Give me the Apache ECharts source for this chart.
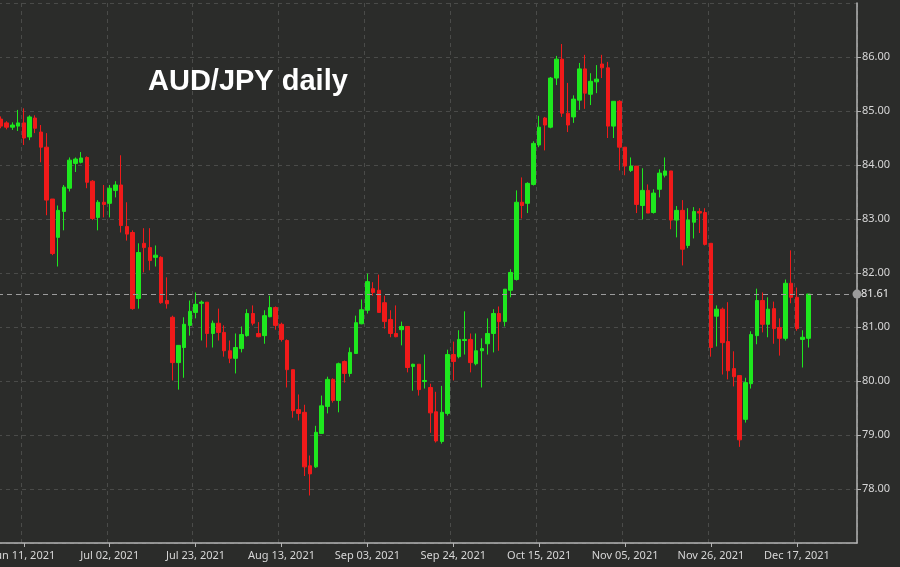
<!DOCTYPE html>
<html>
<head>
<meta charset="utf-8">
<script src="https://cdn.jsdelivr.net/npm/echarts@6/dist/echarts.min.js"></script>
<style>
html,body{margin:0;padding:0;background:#2b2c2a;}
#c{width:900px;height:567px;}
</style>
</head>
<body>
<div id="c"></div>
<script>
const dates = [
"2021-06-07","2021-06-08","2021-06-09","2021-06-10","2021-06-11","2021-06-14","2021-06-15","2021-06-16","2021-06-17","2021-06-18",
"2021-06-21","2021-06-22","2021-06-23","2021-06-24","2021-06-25","2021-06-28","2021-06-29","2021-06-30",
"2021-07-01","2021-07-02","2021-07-05","2021-07-06","2021-07-07","2021-07-08","2021-07-09","2021-07-12","2021-07-13","2021-07-14",
"2021-07-15","2021-07-16","2021-07-19","2021-07-20","2021-07-21","2021-07-22","2021-07-23","2021-07-26","2021-07-27","2021-07-28",
"2021-07-29","2021-07-30",
"2021-08-02","2021-08-03","2021-08-04","2021-08-05","2021-08-06","2021-08-09","2021-08-10","2021-08-11","2021-08-12","2021-08-13",
"2021-08-16","2021-08-17","2021-08-18","2021-08-19","2021-08-20","2021-08-23","2021-08-24","2021-08-25","2021-08-26","2021-08-27",
"2021-08-30","2021-08-31",
"2021-09-01","2021-09-02","2021-09-03","2021-09-06","2021-09-07","2021-09-08","2021-09-09","2021-09-10","2021-09-13","2021-09-14",
"2021-09-15","2021-09-16","2021-09-17","2021-09-20","2021-09-21","2021-09-22","2021-09-23","2021-09-24","2021-09-27","2021-09-28",
"2021-09-29","2021-09-30",
"2021-10-01","2021-10-04","2021-10-05","2021-10-06","2021-10-07","2021-10-08","2021-10-11","2021-10-12","2021-10-13","2021-10-14",
"2021-10-15","2021-10-18","2021-10-19","2021-10-20","2021-10-21","2021-10-22","2021-10-25","2021-10-26","2021-10-27","2021-10-28",
"2021-10-29",
"2021-11-01","2021-11-02","2021-11-03","2021-11-04","2021-11-05","2021-11-08","2021-11-09","2021-11-10","2021-11-11","2021-11-12",
"2021-11-15","2021-11-16","2021-11-17","2021-11-18","2021-11-19","2021-11-22","2021-11-23","2021-11-24","2021-11-25","2021-11-26",
"2021-11-29","2021-11-30",
"2021-12-01","2021-12-02","2021-12-03","2021-12-06","2021-12-07","2021-12-08","2021-12-09","2021-12-10","2021-12-13","2021-12-14",
"2021-12-15","2021-12-16","2021-12-17","2021-12-20","2021-12-21","2021-12-22","2021-12-23","2021-12-24","2021-12-27","2021-12-28",
"2021-12-29","2021-12-30","2021-12-31"
];

const openV = [
84.85,84.78,84.70,84.72,84.78,84.52,84.87,84.61,84.33,83.37,
82.66,83.14,83.57,84.03,84.05,84.14,83.70,83.03,83.31,83.29,
83.53,83.63,82.86,82.75,81.53,82.55,82.47,82.29,82.29,81.49,
81.18,80.34,80.62,81.03,81.27,81.44,81.46,80.88,81.07,80.90,
80.56,80.42,80.60,80.84,81.25,80.88,80.84,81.19,81.36,81.05,
80.75,80.21,79.47,79.42,78.43,78.41,79.03,79.53,80.03,79.64,
80.36,80.14,80.51,81.06,81.31,81.71,81.68,81.45,81.14,80.88,
80.95,81.01,80.27,80.31,79.99,79.88,79.43,78.88,79.40,80.49,
80.45,80.75,80.77,80.32,80.56,80.69,80.88,81.25,81.10,81.68,
81.88,83.31,83.29,83.64,84.37,84.87,84.70,85.61,85.96,84.96,
84.89,85.20,85.78,85.31,85.54,85.87,85.80,84.72,85.18,84.33,
83.90,83.98,83.25,83.53,83.12,83.55,83.81,83.89,82.98,83.16,
82.51,82.94,83.14,83.12,82.55,81.20,81.33,80.73,80.23,80.10,
79.29,79.95,80.84,81.49,81.05,81.34,80.99,80.79,81.81,81.55,
80.77,80.79
];
const closeV = [
84.72,84.70,84.74,84.78,84.50,84.89,84.68,84.33,83.35,82.36,
83.16,83.59,84.09,84.11,84.13,83.68,83.01,83.31,83.27,83.57,
83.63,82.88,82.72,81.34,82.38,82.47,82.23,82.33,81.45,81.43,
80.34,80.66,81.05,81.29,81.42,81.46,80.88,81.07,80.90,80.56,
80.42,80.62,80.86,81.25,81.07,80.82,81.21,81.36,81.03,80.77,
80.21,79.45,79.40,78.41,78.28,79.05,79.54,80.03,79.64,80.32,
80.14,80.53,81.08,81.32,81.84,81.64,81.27,81.10,80.88,80.82,
81.01,80.25,80.31,79.84,80.01,79.41,78.89,79.42,80.49,80.36,
80.77,80.77,80.34,80.56,80.60,80.88,81.25,81.10,81.70,82.01,
83.31,83.25,83.66,84.40,84.70,84.74,85.61,85.96,84.96,84.74,
85.22,85.78,85.33,85.55,85.59,85.80,84.72,85.18,84.33,83.98,
83.98,83.27,83.53,83.11,83.48,83.85,83.89,82.98,83.16,82.44,
82.98,83.14,83.11,82.53,80.62,81.33,80.71,80.19,80.08,78.91,
79.97,80.86,81.49,81.05,81.33,80.97,80.79,81.81,81.55,80.97,
80.81,81.61
];
const lowV = [
84.68,84.66,84.65,84.63,84.37,84.46,84.59,84.05,83.07,82.33,
82.12,82.79,83.51,83.87,84.03,83.57,82.98,82.79,83.03,83.03,
83.40,82.75,82.60,81.32,81.34,82.01,82.05,82.12,81.43,81.34,
80.01,79.84,80.06,80.84,81.16,80.75,80.62,80.62,80.75,80.45,
80.33,80.14,80.53,80.82,81.03,80.81,80.69,81.18,80.95,80.73,
79.88,79.32,79.27,78.24,77.88,78.39,79.03,79.40,79.60,79.42,
79.97,80.08,80.51,81.05,81.25,81.58,81.27,80.97,80.81,80.81,
80.66,80.16,79.82,79.73,79.86,79.04,78.86,78.84,79.36,80.01,
80.42,80.49,80.16,80.29,79.88,80.49,80.53,80.56,81.01,81.55,
81.86,83.01,83.11,83.62,84.33,84.27,84.68,85.48,84.89,84.61,
84.78,85.02,85.04,85.11,85.33,85.61,84.50,84.50,83.90,83.81,
83.87,83.11,82.99,83.11,83.10,83.40,83.77,82.81,82.66,82.14,
82.46,82.64,82.74,82.51,80.45,80.64,80.12,80.03,79.90,78.78,
79.23,79.86,80.68,80.90,80.81,80.69,80.47,80.75,81.44,80.93,
80.25,80.62
];
const highV = [
84.90,84.81,84.79,85.02,85.05,84.92,84.92,84.74,84.59,83.37,
83.25,83.63,84.14,84.14,84.24,84.16,83.72,83.35,83.63,83.63,
83.70,84.18,83.31,82.79,82.55,82.83,82.83,82.51,82.31,81.92,
81.21,80.66,81.18,81.49,81.64,81.49,81.46,81.12,81.34,81.03,
80.75,80.88,81.01,81.33,81.40,81.09,81.31,81.58,81.38,81.08,
80.77,80.21,79.75,79.56,78.62,79.17,79.73,80.08,80.05,80.34,
80.38,80.62,81.21,81.51,81.99,81.83,81.97,81.58,81.31,81.40,
81.10,81.01,80.32,80.31,80.49,79.95,79.80,79.91,80.58,80.73,
80.94,81.29,80.88,80.88,80.79,81.16,81.33,81.38,81.70,82.07,
83.53,83.77,83.68,84.44,84.91,84.89,85.63,86.02,86.24,85.52,
85.29,85.89,86.04,85.70,85.85,86.04,85.91,85.18,85.20,84.33,
84.14,83.98,83.94,83.64,83.55,83.92,84.14,83.89,83.24,83.35,
83.20,83.22,83.20,83.20,82.55,81.40,81.36,81.46,80.55,80.10,
80.06,80.92,81.71,81.64,81.55,81.47,81.16,81.88,82.42,81.73,
80.94,81.61
];
const yTicks = [77, 78, 79, 80, 81, 82, 83, 84, 85, 86, 87];
const titleText = 'AUD/JPY daily';
const months = ['Jan','Feb','Mar','Apr','May','Jun','Jul','Aug','Sep','Oct','Nov','Dec'];

const candles = openV.map((o, i) => [o, closeV[i], lowV[i], highV[i]]);
const lastClose = closeV[closeV.length - 1];
const firstLabelIdx = dates.indexOf('2021-06-11');
const every = 15;
const showAt = (idx) => idx >= firstLabelIdx && (idx - firstLabelIdx) % every === 0;

const chart = echarts.init(document.getElementById('c'), null, {renderer: 'canvas'});
chart.setOption({
  backgroundColor: '#2b2c2a',
  animation: false,
  title: {
    text: titleText,
    left: 143, top: 62,
    textStyle: {color: '#ffffff', fontSize: 29, fontWeight: 'bold', fontFamily: 'Liberation Sans, Arial, sans-serif'}
  },
  grid: {left: -2, right: 43, top: 3, bottom: 24, containLabel: false, outerBoundsMode: 'none'},
  xAxis: {
    type: 'category',
    data: dates,
    boundaryGap: true,
    axisLine: {show: true, lineStyle: {color: '#b4b4b4', width: 1.5}},
    axisTick: {show: true, alignWithLabel: true, interval: (i) => showAt(i), length: 4, lineStyle: {color: '#b4b4b4'}},
    axisLabel: {
      interval: (i) => showAt(i),
      color: '#d6d6d6', fontSize: 11, margin: 7,
      fontFamily: 'Noto Sans, sans-serif',
      formatter: (v) => { const p = v.split('-'); return months[+p[1]-1] + ' ' + p[2] + ', ' + p[0]; }
    },
    splitLine: {show: true, interval: (i) => showAt(i), lineStyle: {color: '#4a4b49', type: [4, 4], width: 1}}
  },
  yAxis: {
    type: 'value',
    position: 'right',
    min: yTicks[0], max: yTicks[yTicks.length - 1], interval: 1,
    axisLine: {show: true, lineStyle: {color: '#b4b4b4', width: 1.5}},
    axisTick: {show: true, length: 4, lineStyle: {color: '#b4b4b4'}},
    axisLabel: {
      color: '#d6d6d6', fontSize: 11, margin: 5, showMinLabel: false, showMaxLabel: false,
      fontFamily: 'Noto Sans, sans-serif',
      formatter: (v) => v.toFixed(2)
    },
    splitLine: {show: true, lineStyle: {color: '#4a4b49', type: [4, 4], width: 1}}
  },
  series: [{
    type: 'candlestick',
    data: candles,
    barWidth: 4,
    itemStyle: {color: '#1ee81e', color0: '#f01a1a', borderColor: '#1ee81e', borderColor0: '#f01a1a', borderWidth: 1},
    markLine: {
      silent: true,
      symbol: ['none', 'circle'],
      symbolSize: 9,
      data: [{yAxis: lastClose}],
      lineStyle: {color: '#9c9c9c', type: [5, 4], width: 1},
      label: {show: true, position: 'end', distance: 4, formatter: () => lastClose.toFixed(2), color: '#e8e8e8', fontSize: 11, fontFamily: 'Noto Sans, sans-serif'}
    }
  }]
});
</script>
</body>
</html>
